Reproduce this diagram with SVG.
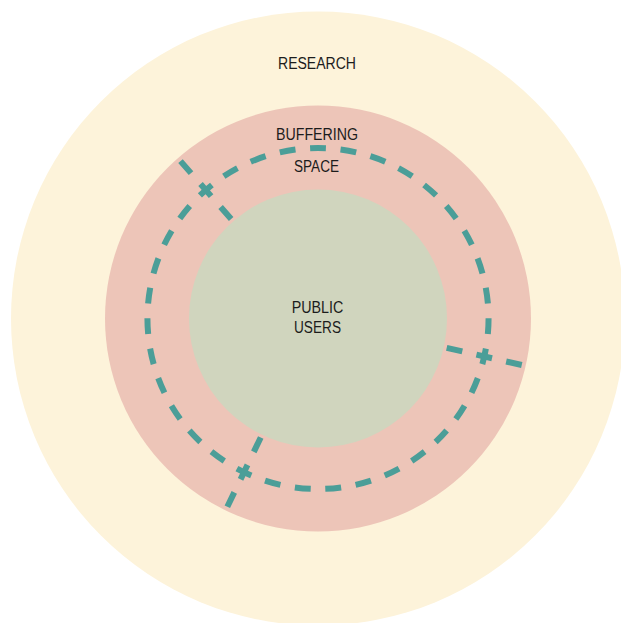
<svg xmlns="http://www.w3.org/2000/svg" width="621" height="623" viewBox="0 0 621 623">
  <style>
    .label { font-family: "Liberation Sans", Arial, sans-serif; font-size: 16px; fill: #1c1c1c; text-anchor: middle; }
    .route { fill: none; stroke: #4b9e98; stroke-width: 6; stroke-linecap: butt; }
  </style>
  <rect width="621" height="623" fill="#ffffff"/>

  <!-- outer ring: research -->
  <g id="research">
    <circle cx="318" cy="318.5" r="307" fill="#fdf3da"/>
    <text class="label" x="317" y="68.5" textLength="78" lengthAdjust="spacingAndGlyphs">RESEARCH</text>
  </g>

  <!-- middle ring: buffering space -->
  <g id="buffering-space">
    <circle cx="318" cy="318.5" r="213" fill="#edc5b8"/>
    <text class="label" x="317" y="140" textLength="82" lengthAdjust="spacingAndGlyphs">BUFFERING</text>
    <text class="label" x="316.5" y="171.5" textLength="45" lengthAdjust="spacingAndGlyphs">SPACE</text>
  </g>

  <!-- core: public users -->
  <g id="public-users">
    <circle cx="318" cy="318.5" r="129" fill="#d0d5be"/>
    <text class="label" x="317.5" y="313.3" textLength="51.6" lengthAdjust="spacingAndGlyphs">PUBLIC</text>
    <text class="label" x="317.5" y="333.3" textLength="47" lengthAdjust="spacingAndGlyphs">USERS</text>
  </g>

  <!-- dashed boundary ring and the three radial crossings -->
  <g id="connectors">
    <path class="route" d="M318,148 A170.5,170.5 0 1,1 318,489 A170.5,170.5 0 1,1 318,148" pathLength="350" stroke-dasharray="5.2 4.8" stroke-dashoffset="2.6"/>
    <g transform="translate(318,318.5)">
      <line class="route" x1="132" y1="0" x2="209" y2="0" stroke-dasharray="16 14.5" transform="rotate(-131.14)"/>
      <line class="route" x1="132" y1="0" x2="209" y2="0" stroke-dasharray="16 14.5" transform="rotate(12.86)"/>
      <line class="route" x1="132" y1="0" x2="209" y2="0" stroke-dasharray="16 14.5" transform="rotate(115.71)"/>
    </g>
  </g>
</svg>
